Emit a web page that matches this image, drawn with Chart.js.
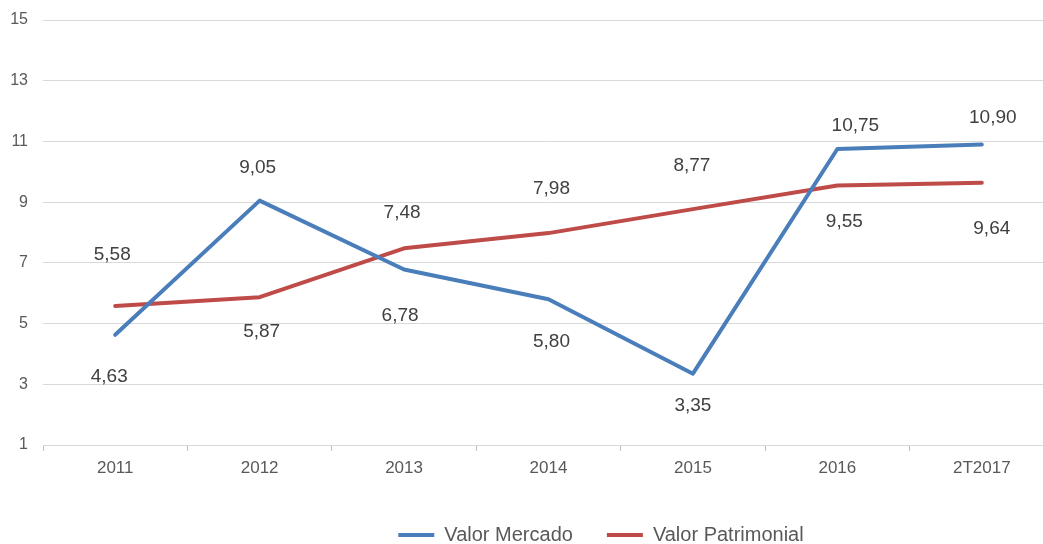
<!DOCTYPE html>
<html>
<head>
<meta charset="utf-8">
<script src="https://cdn.jsdelivr.net/npm/chart.js@4.4.0/dist/chart.umd.min.js"></script>
<style>
  html, body { margin: 0; padding: 0; background: #ffffff; overflow: hidden; }
  #wrap { width: 1060px; height: 544px; }
</style>
</head>
<body>
<div id="wrap"><canvas id="c" width="1060" height="544"></canvas></div>
<script>
// ---- data ----
const categories = ['2011', '2012', '2013', '2014', '2015', '2016', '2T2017'];
const valorMercado = [4.63, 9.05, 6.78, 5.80, 3.35, 10.75, 10.90];
const valorPatrimonial = [5.58, 5.87, 7.48, 7.98, 8.77, 9.55, 9.64];
const yTicks = [1, 3, 5, 7, 9, 11, 13, 15];

// ---- label placement (style, pixels) ----
const mercadoLabelDy = [42, -33, 46, 42, 32, -23, -27];
const mercadoLabelDx = [-6, -2, -4, 3, 0, 18, 11];
const patrimonialLabelDy = [-51, 35, -36, -44, -43, 36, 46];
const patrimonialLabelDx = [-3, 2, -2, 3, -1, 7, 10];

const FONT = "'Liberation Sans', Arial, sans-serif";
const BLUE = '#4A7EBB';
const RED = '#BE4B48';
const LEGEND_PAD = 34;

const dataLabels = {
  id: 'dataLabels',
  afterDatasetsDraw(chart) {
    const ctx = chart.ctx;
    const offs = [[mercadoLabelDx, mercadoLabelDy], [patrimonialLabelDx, patrimonialLabelDy]];
    ctx.save();
    ctx.font = '19px ' + FONT;
    ctx.fillStyle = '#404040';
    ctx.textAlign = 'center';
    ctx.textBaseline = 'middle';
    chart.data.datasets.forEach((ds, di) => {
      const meta = chart.getDatasetMeta(di);
      meta.data.forEach((pt, i) => {
        const txt = ds.data[i].toFixed(2).replace('.', ',');
        ctx.fillText(txt, pt.x + offs[di][0][i], pt.y + offs[di][1][i]);
      });
    });
    ctx.restore();
  }
};

const legendPlace = {
  id: 'legendPlace',
  afterLayout(chart) {
    const L = chart.legend;
    if (!L) return;
    const dx = 601 - (L.left + L.right) / 2;
    L.left += dx; L.right += dx;
    const newTop = 535 - LEGEND_PAD - 10;
    const h = L.bottom - L.top;
    L.top = newTop; L.bottom = newTop + h;
  }
};

new Chart(document.getElementById('c'), {
  type: 'line',
  data: {
    labels: categories,
    datasets: [
      { label: 'Valor Mercado', data: valorMercado, borderColor: BLUE, backgroundColor: BLUE,
        borderWidth: 4, pointRadius: 0, tension: 0, borderCapStyle: 'round', borderJoinStyle: 'round' },
      { label: 'Valor Patrimonial', data: valorPatrimonial, borderColor: RED, backgroundColor: RED,
        borderWidth: 4, pointRadius: 0, tension: 0, borderCapStyle: 'round', borderJoinStyle: 'round' }
    ]
  },
  options: {
    responsive: false,
    animation: false,
    layout: { padding: { left: 0, right: 6, top: 20, bottom: 0 } },
    plugins: {
      tooltip: { enabled: false },
      legend: {
        position: 'bottom',
        labels: {
          font: { family: FONT, size: 20 },
          color: '#595959',
          usePointStyle: true,
          pointStyle: 'line',
          pointStyleWidth: 36,
          padding: LEGEND_PAD,
          boxHeight: 20
        }
      }
    },
    scales: {
      x: {
        offset: true,
        grid: { offset: true, drawOnChartArea: false, drawTicks: true, tickLength: 6, color: '#bfbfbf' },
        border: { display: true, color: '#d9d9d9', width: 1 },
        ticks: { font: { family: FONT, size: 17 }, color: '#595959', padding: 7, maxRotation: 0 },
        afterFit(s) { s.height = 35; }
      },
      y: {
        min: 1, max: 15,
        afterBuildTicks(s) { s.ticks = yTicks.map(v => ({ value: v })); },
        grid: { color: '#d9d9d9', drawTicks: true, tickLength: 15, tickColor: 'rgba(0,0,0,0)', lineWidth: 1 },
        border: { display: false },
        ticks: { font: { family: FONT, size: 16 }, color: '#595959', padding: 0 },
        afterFit(s) { s.width = 43; }
      }
    }
  },
  plugins: [dataLabels, legendPlace]
});
</script>
</body>
</html>
